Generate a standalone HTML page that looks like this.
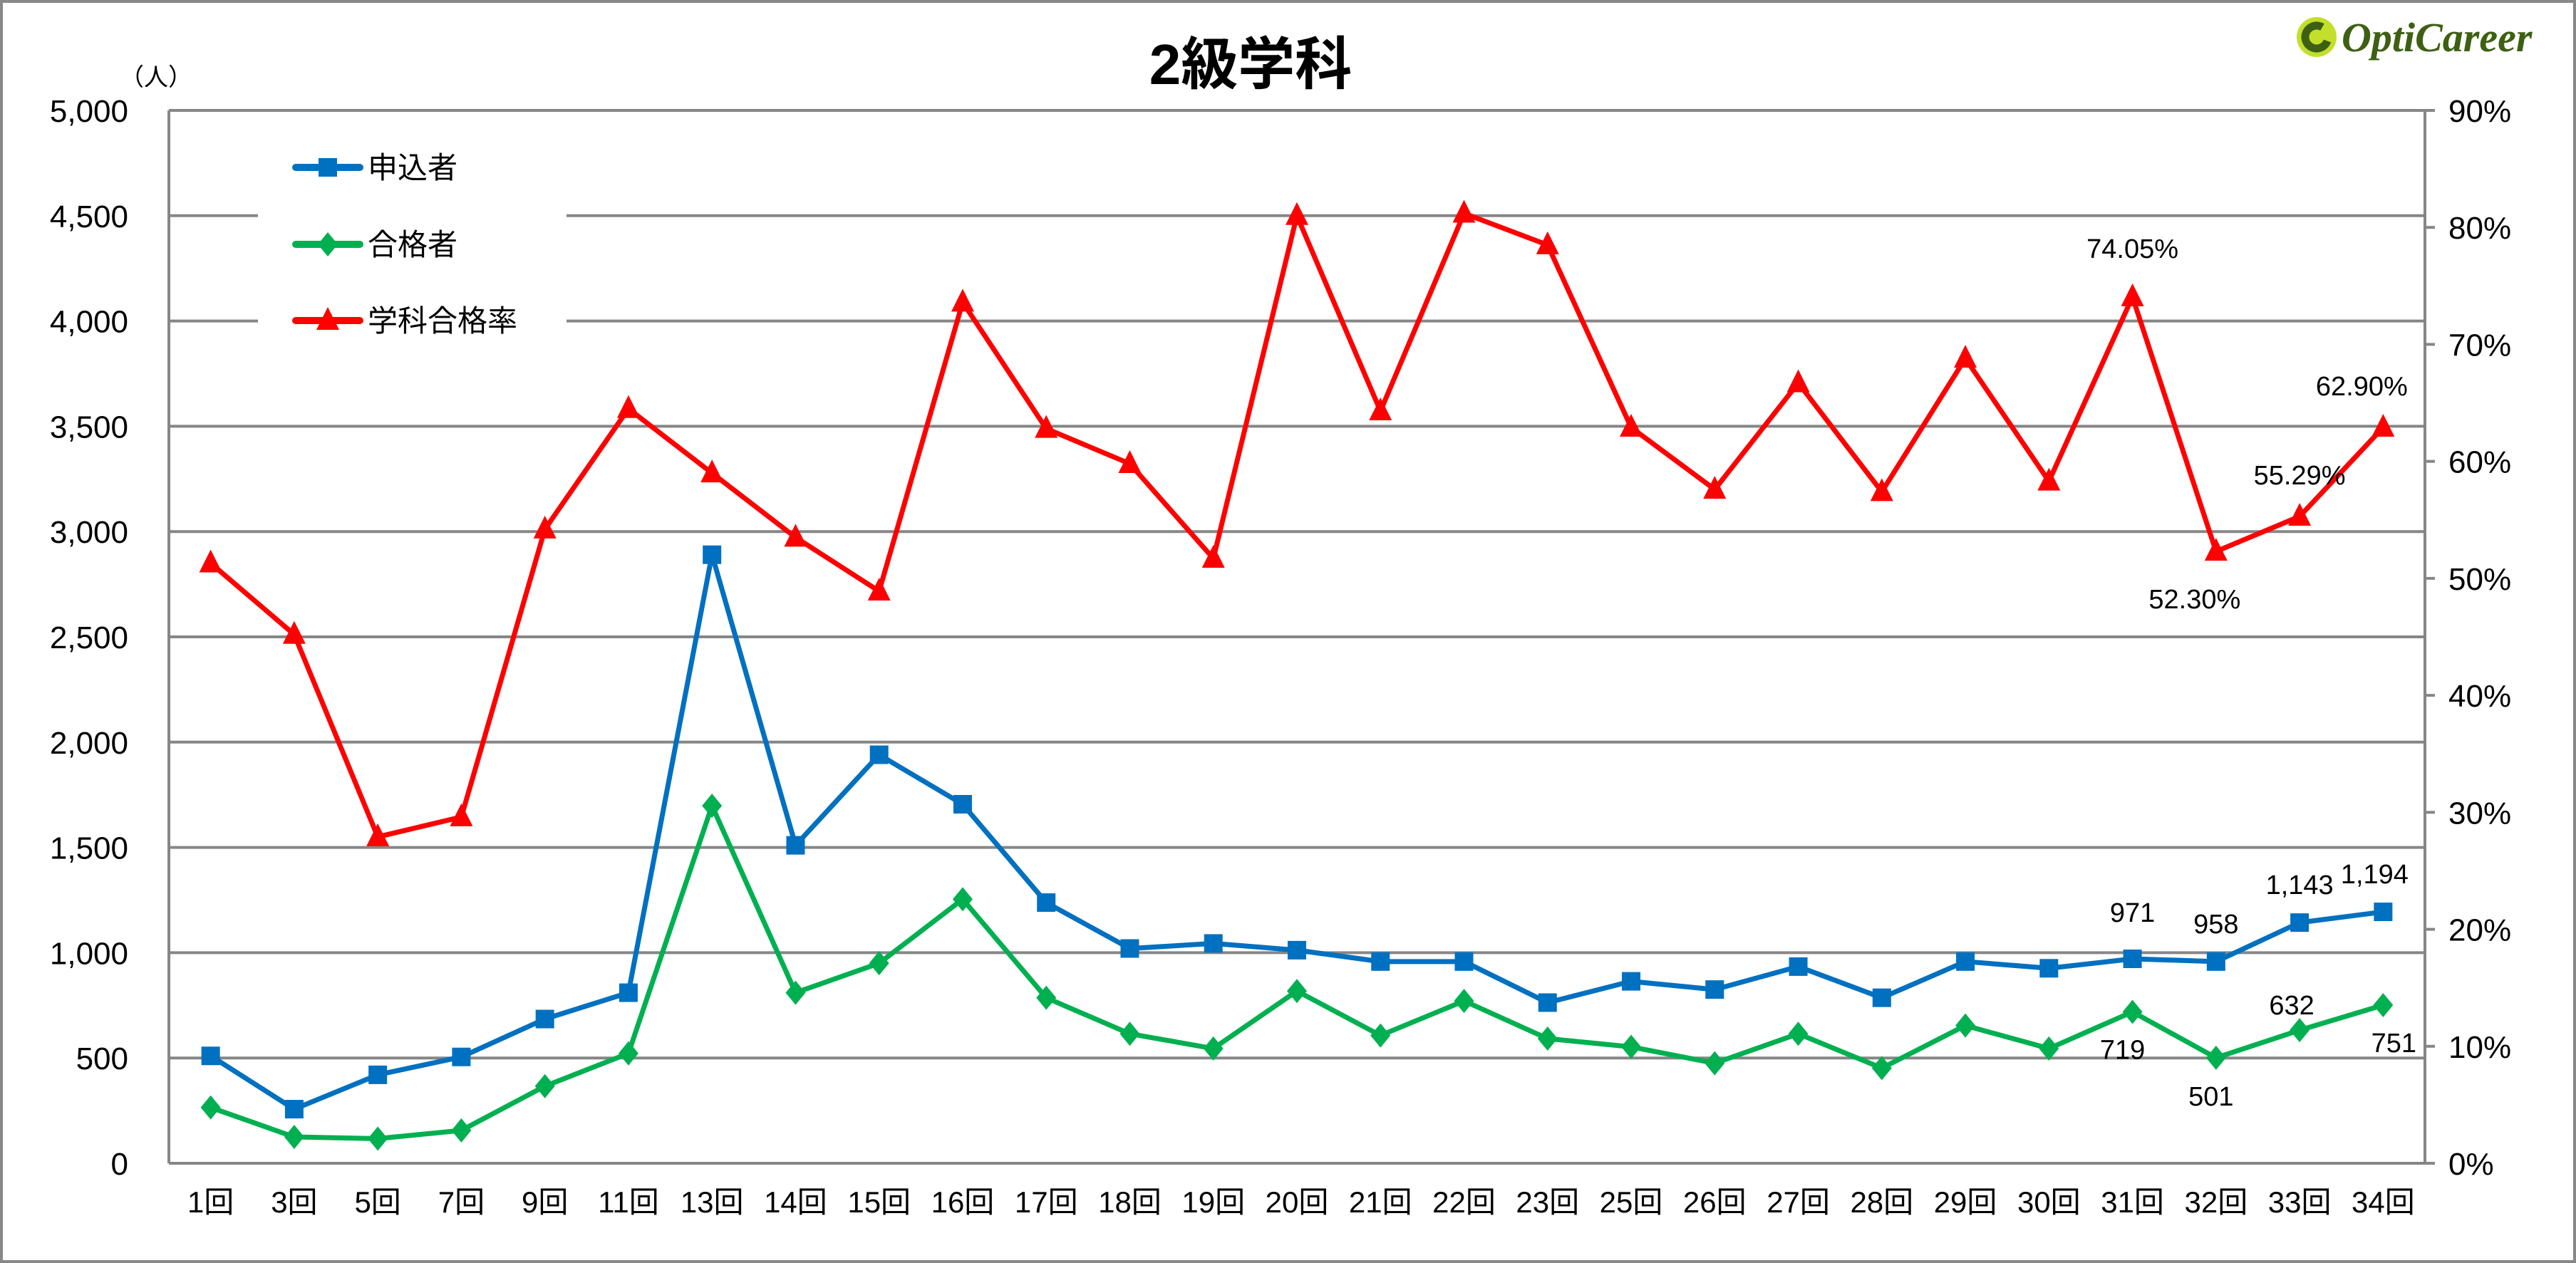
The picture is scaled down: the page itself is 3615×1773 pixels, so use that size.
<!DOCTYPE html>
<html><head><meta charset="utf-8">
<style>
html,body{margin:0;padding:0;background:#fff;}
svg{display:block;}
text{font-family:"Liberation Sans","Noto Sans CJK JP",sans-serif;fill:#000;}
</style></head>
<body>
<svg id="chart" width="3615" height="1773" viewBox="0 0 3615 1773" xmlns="http://www.w3.org/2000/svg">
<rect x="2" y="2" width="3611" height="1769" fill="#fff" stroke="#888" stroke-width="4"/>
<text x="1755" y="118" font-size="80" font-weight="bold" text-anchor="middle">2級学科</text>
<g>
<circle cx="3251" cy="52" r="28" fill="#c3df2c"/>
<circle cx="3251" cy="52" r="16" fill="none" stroke="#3d6012" stroke-width="11" stroke-dasharray="78 23" transform="rotate(20 3251 52)"/>
<text x="3286" y="72" font-size="58" font-style="italic" font-weight="bold" style="font-family:'Liberation Serif',serif;fill:#3d6012">OptiCareer</text>
</g>
<text x="168" y="120" font-size="34">（人）</text>
<g id="grid"></g>
<g id="axes"></g>
<g id="series"></g>
<g id="legend"></g>
</svg>
<script>
const categories=["1回","3回","5回","7回","9回","11回","13回","14回","15回","16回","17回","18回","19回","20回","21回","22回","23回","25回","26回","27回","28回","29回","30回","31回","32回","33回","34回"];
const applicants=[510,257,420,505,685,810,2890,1510,1940,1705,1238,1020,1044,1012,958,958,763,864,825,934,786,958,926,971,958,1143,1194];
const passers=[265,125,117,156,366,522,1698,810,950,1254,786,615,545,818,607,771,592,553,475,615,452,654,545,719,501,632,751];
const passRate=[51.3,45.2,27.9,29.6,54.2,64.5,59.0,53.5,48.9,73.6,62.8,59.8,51.7,81.0,64.3,81.2,78.5,62.9,57.6,66.7,57.4,68.8,58.3,74.05,52.30,55.29,62.90];
const leftTicks=[0,500,1000,1500,2000,2500,3000,3500,4000,4500,5000];
const rightTicks=[0,10,20,30,40,50,60,70,80,90];
const applicantLabels=[[23,"971"],[24,"958"],[25,"1,143"],[26,"1,194"]];
const passerLabels=[[23,"719"],[24,"501"],[25,"632"],[26,"751"]];
const rateLabels=[[23,"74.05%"],[24,"52.30%"],[25,"55.29%"],[26,"62.90%"]];

const NS="http://www.w3.org/2000/svg";
const L=237,R=3403,T=155,B=1633;
const x=i=>L+(i+0.5)*(R-L)/categories.length;
const yL=v=>B-(v/5000)*(B-T);
const yR=v=>B-(v/90)*(B-T);
function mk(tag,attrs,parent,txt){const e=document.createElementNS(NS,tag);for(const k in attrs)e.setAttribute(k,attrs[k]);if(txt!==undefined)e.textContent=txt;parent.appendChild(e);return e;}
const grid=document.getElementById('grid'),axes=document.getElementById('axes'),ser=document.getElementById('series'),leg=document.getElementById('legend');
const fmt=v=>v.toLocaleString('en-US');
leftTicks.forEach(v=>{
  const g=mk('line',{x1:L,x2:R,y1:yL(v),y2:yL(v),stroke:'#868686','stroke-width':4},grid);
  
  
  const t=mk('text',{x:180,y:yL(v)+16,'font-size':44,'text-anchor':'end'},axes,fmt(v));
  
  
});
rightTicks.forEach(v=>{
  mk('line',{x1:R,x2:R+14,y1:yR(v),y2:yR(v),stroke:'#868686','stroke-width':4},axes);
  const t=mk('text',{x:3436,y:yR(v)+16,'font-size':44},axes,v+'%');
  
  
});
mk('line',{x1:L,x2:L,y1:T,y2:B,stroke:'#868686','stroke-width':4},axes);
mk('line',{x1:R,x2:R,y1:T,y2:B,stroke:'#868686','stroke-width':4},axes);
categories.forEach((c,i)=>{
  const t=mk('text',{x:x(i),y:1702,'font-size':42,'text-anchor':'middle'},axes,c);
  
  
});
function marker(type,cx,cy,color,parent){
  if(type==='sq') return mk('rect',{x:cx-13,y:cy-13,width:26,height:26,fill:color},parent);
  if(type==='dia') return mk('polygon',{points:`${cx},${cy-17} ${cx+14},${cy} ${cx},${cy+17} ${cx-14},${cy}`,fill:color},parent);
  return mk('polygon',{points:`${cx},${cy-19} ${cx+16},${cy+13} ${cx-16},${cy+13}`,fill:color},parent);
}
function series(name,vals,yf,color,type){
  const g=mk('g',{},ser);
  
  
  mk('polyline',{points:vals.map((v,i)=>x(i)+','+yf(v)).join(' '),fill:'none',stroke:color,'stroke-width':7,'stroke-linejoin':'round'},g);
  vals.forEach((v,i)=>{const m=marker(type,x(i),yf(v),color,g);
    
    });
}
series('applicants-series',applicants,yL,'#0070c0','sq');
series('passers-series',passers,yL,'#00b050','dia');
series('pass-rate-series',passRate,yR,'#ff0000','tri');
function lab(i,s,dx,dy,yv){
  const t=mk('text',{x:x(i)+dx,y:yv+dy,'font-size':38,'text-anchor':'middle'},ser,s);
  
  
}
const aOff=[[0,-52],[0,-40],[0,-40],[-12,-40]];
applicantLabels.forEach(([i,s],k)=>lab(i,s,aOff[k][0],aOff[k][1],yL(applicants[i])));
const pOff=[[-14,66],[-7,67],[-11,-22],[15,66]];
passerLabels.forEach(([i,s],k)=>lab(i,s,pOff[k][0],pOff[k][1],yL(passers[i])));
const rOff=[[0,-55],[-30,80],[0,-45],[-30,-45]];
rateLabels.forEach(([i,s],k)=>lab(i,s,rOff[k][0],rOff[k][1],yR(passRate[i])));
// legend
mk('rect',{x:362,y:180,width:433,height:315,fill:'#fff'},leg);
const legItems=[['申込者','#0070c0','sq',235],['合格者','#00b050','dia',343],['学科合格率','#ff0000','tri',450]];
legItems.forEach(([n,c,t,yy])=>{
  const g=mk('g',{},leg);
  
  
  mk('line',{x1:415,x2:505,y1:yy,y2:yy,stroke:c,'stroke-width':10,'stroke-linecap':'round'},g);
  marker(t,460,yy,c,g);
  mk('text',{x:516,y:yy+15,'font-size':42},g,n);
});
</script>
</body></html>
